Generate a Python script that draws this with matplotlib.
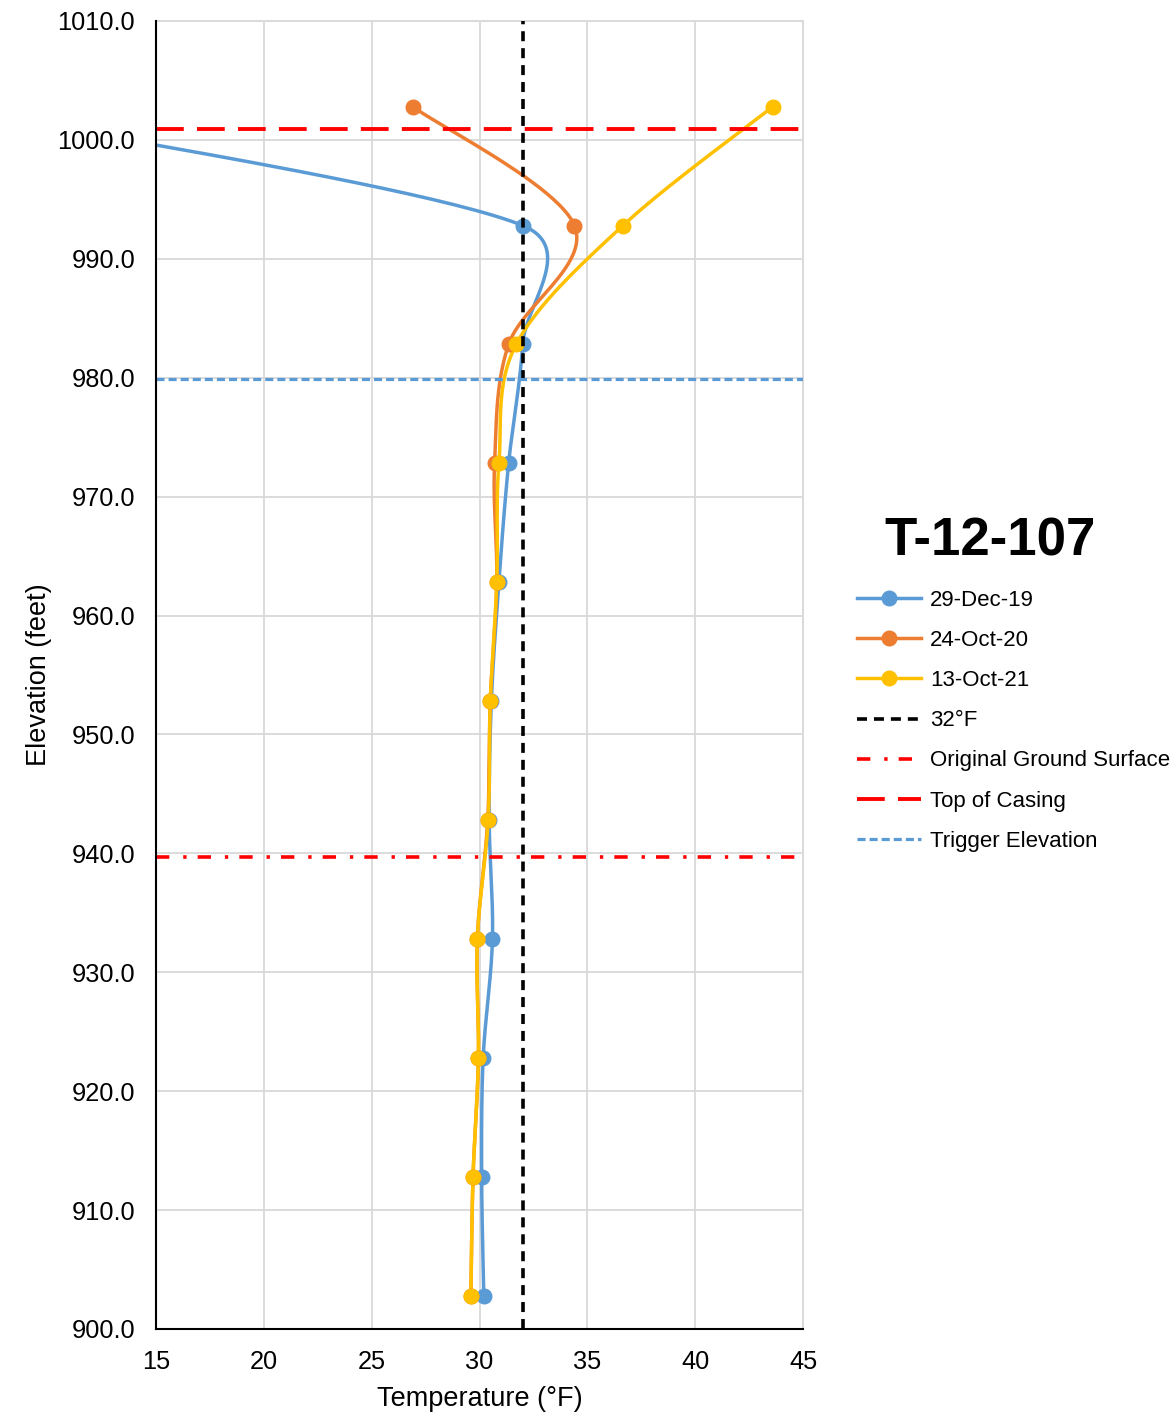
import numpy as np
import matplotlib
matplotlib.use("Agg")
import matplotlib.pyplot as plt
from matplotlib.lines import Line2D

plt.rcParams['font.family'] = ['Liberation Sans', 'DejaVu Sans']
plt.rcParams['lines.scale_dashes'] = False

# ---- data ----
elevation = [1002.8, 992.8, 982.8, 972.8, 962.8, 952.8, 942.8, 932.8, 922.8, 912.8, 902.8]
temp_dec19 = [5.0, 32.0, 32.0, 31.35, 30.9, 30.55, 30.45, 30.6, 30.17, 30.1, 30.2]
temp_oct20 = [26.9, 34.4, 31.35, 30.7, 30.8, 30.5, 30.38, 29.9, 29.95, 29.7, 29.6]
temp_oct21 = [43.6, 36.65, 31.7, 30.9, 30.8, 30.5, 30.4, 29.9, 29.95, 29.7, 29.6]
series_names = ['29-Dec-19', '24-Oct-20', '13-Oct-21']
freeze_temp = 32.0
ground_surface = 939.7
top_of_casing = 1000.9
trigger_elev = 979.9
xticks = [15, 20, 25, 30, 35, 40, 45]
yticks = [900, 910, 920, 930, 940, 950, 960, 970, 980, 990, 1000, 1010]

colors = ['#5B9BD5', '#ED7D31', '#FFC000']


def smooth_display(ax, xs, ys, n=50):
    """Excel-style smoothed curve: Bezier segments computed in display space."""
    pts = ax.transData.transform(np.column_stack([xs, ys]).astype(float))
    out = []
    m = len(pts)
    f = 1.0 / 6.0
    for i in range(m - 1):
        p0 = pts[i - 1] if i > 0 else pts[i]
        p1 = pts[i]
        p2 = pts[i + 1]
        p3 = pts[i + 2] if i + 2 < m else pts[i + 1]
        d12 = np.linalg.norm(p2 - p1)
        t1 = (p2 - p0) * f
        t2 = (p3 - p1) * f
        n1 = np.linalg.norm(t1)
        n2 = np.linalg.norm(t2)
        if n1 > d12 / 2 and n1 > 0:
            t1 = t1 * (d12 / 2) / n1
        if n2 > d12 / 2 and n2 > 0:
            t2 = t2 * (d12 / 2) / n2
        c1 = p1 + t1
        c2 = p2 - t2
        t = np.linspace(0, 1, n)[:, None]
        b = ((1 - t) ** 3) * p1 + 3 * ((1 - t) ** 2) * t * c1 + 3 * (1 - t) * t ** 2 * c2 + t ** 3 * p2
        out.append(b if i == 0 else b[1:])
    out = np.vstack(out)
    data = ax.transData.inverted().transform(out)
    return data[:, 0], data[:, 1]


fig = plt.figure(figsize=(11.70, 14.16), dpi=100)
ax = fig.add_axes([156 / 1170, 1 - 1329 / 1416, (803 - 156) / 1170, (1329 - 21) / 1416])
ax.set_xlim(15, 45)
ax.set_ylim(900, 1010)

lw = 2.5
ms = 10.5
for temps, c in zip([temp_dec19, temp_oct20, temp_oct21], colors):
    sx, sy = smooth_display(ax, temps, elevation)
    ax.plot(sx, sy, color=c, lw=lw, zorder=3, solid_capstyle='round')
    ax.plot(temps, elevation, 'o', color=c, ms=ms, zorder=4)

ax.axvline(freeze_temp, color='black', lw=2.6, dashes=(7.2, 5.0), zorder=5)
ax.axhline(ground_surface, color='#FF0000', lw=2.6, dashes=(9.6, 10, 2.4, 8), zorder=5)
ax.axhline(top_of_casing, color='#FF0000', lw=2.8, dashes=(20, 9.5), zorder=5)
ax.axhline(trigger_elev, color='#5B9BD5', lw=2.3, dashes=(5.8, 2.9), zorder=5)

ax.set_xticks(xticks)
ax.set_yticks(yticks)
ax.set_xticklabels([str(v) for v in xticks])
ax.set_yticklabels([f"{v:.1f}" for v in yticks])
ax.tick_params(axis='y', length=0, labelsize=18.3, pad=15)
ax.tick_params(axis='x', length=0, labelsize=18.3, pad=15)
ax.grid(True, color='#D9D9D9', lw=1.3, zorder=0)
ax.set_axisbelow(True)
for s in ['top', 'right']:
    ax.spines[s].set_color('#D9D9D9')
    ax.spines[s].set_linewidth(1.3)
for s in ['left', 'bottom']:
    ax.spines[s].set_color('black')
    ax.spines[s].set_linewidth(1.5)
    ax.spines[s].set_zorder(6)

ax.set_xlabel('Temperature (°F)', fontsize=19.5, labelpad=9)
ax.set_ylabel('Elevation (feet)', fontsize=19.5, labelpad=4)

handles = [
    Line2D([], [], color=colors[0], lw=lw, marker='o', ms=ms),
    Line2D([], [], color=colors[1], lw=lw, marker='o', ms=ms),
    Line2D([], [], color=colors[2], lw=lw, marker='o', ms=ms),
    Line2D([], [], color='black', lw=2.6, dashes=(7.2, 5.0)),
    Line2D([], [], color='#FF0000', lw=2.6, dashes=(9.6, 10, 2.4, 8)),
    Line2D([], [], color='#FF0000', lw=2.8, dashes=(20, 9.5)),
    Line2D([], [], color='#5B9BD5', lw=2.3, dashes=(5.8, 2.9)),
]
labels = series_names + ['32°F', 'Original Ground Surface', 'Top of Casing', 'Trigger Elevation']

fig.text(990 / 1170, 1 - 541 / 1416, 'T-12-107', fontsize=38, fontweight='bold',
         ha='center', va='center')
leg = fig.legend(handles, labels, loc='upper left', bbox_to_anchor=(857 / 1170, 1 - 590 / 1416),
                 frameon=False, fontsize=16, handlelength=2.9, handletextpad=0.4,
                 labelspacing=0.86, borderaxespad=0, borderpad=0)

fig.savefig('out.png', dpi=100)
